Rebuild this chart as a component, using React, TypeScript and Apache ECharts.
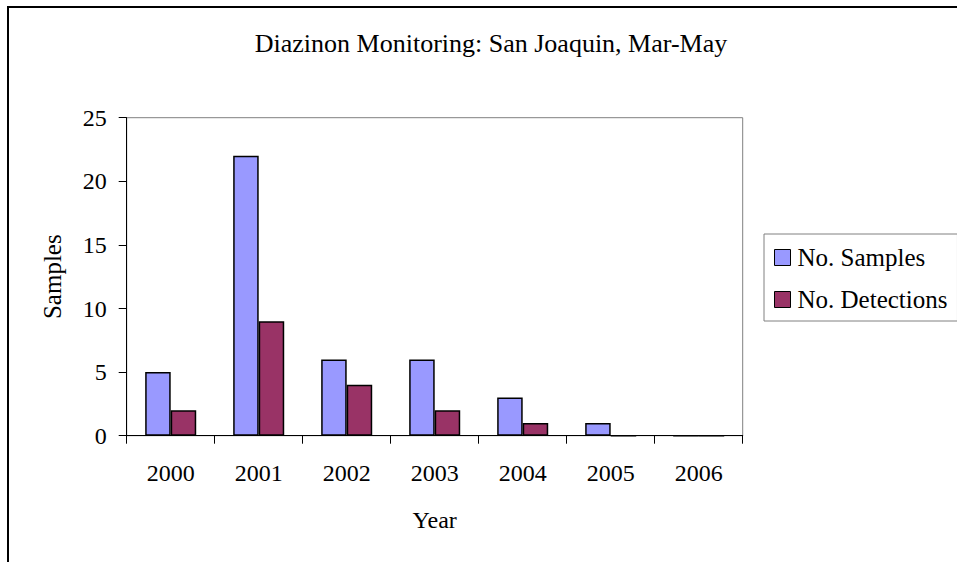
import React, { useEffect, useRef } from "react";
import * as echarts from "echarts";

const categories = ["2000", "2001", "2002", "2003", "2004", "2005", "2006"];
const samples = [5, 22, 6, 6, 3, 1, 0];
const detections = [2, 9, 4, 2, 1, 0, 0];

const FONT = "Liberation Serif, Times New Roman, serif";

export default function App() {
  const ref = useRef<HTMLDivElement>(null);
  useEffect(() => {
    document.body.style.margin = "0";
    const chart = echarts.init(ref.current!, null, { renderer: "svg" });
    chart.setOption({
      animation: false,
      backgroundColor: "#ffffff",
      textStyle: { fontFamily: FONT, color: "#000" },
      title: {
        text: "Diazinon Monitoring: San Joaquin, Mar-May",
        left: 491,
        top: 30,
        padding: 0,
        textAlign: "center",
        textStyle: { fontFamily: FONT, fontSize: 26, fontWeight: "normal", color: "#000" },
      },
      graphic: [
        {
          type: "rect",
          shape: { x: 8, y: 7, width: 1200, height: 800 },
          style: { fill: "none", stroke: "#000", lineWidth: 2 },
          silent: true,
          z: 100,
        },
      ],
      legend: {
        orient: "vertical",
        left: 764,
        top: 234,
        padding: [11, 10, 9, 10],
        itemWidth: 16,
        itemHeight: 16,
        itemGap: 17,
        icon: "rect",
        borderColor: "#808080",
        borderWidth: 1,
        backgroundColor: "#fff",
        textStyle: { fontFamily: FONT, fontSize: 25, color: "#000", padding: [0, 0, 0, 2] },
        itemStyle: { borderColor: "#000", borderWidth: 1 },
        data: ["No. Samples", "No. Detections"],
      },
      grid: {
        left: 126.7,
        top: 117.7,
        right: 214.3,
        bottom: 126.3,
        show: true,
        borderColor: "#808080",
        borderWidth: 1,
        backgroundColor: "#fff",
      },
      xAxis: {
        type: "category",
        data: categories,
        name: "Year",
        nameLocation: "middle",
        nameGap: 72,
        nameTextStyle: { fontFamily: FONT, fontSize: 24, color: "#000" },
        axisLine: { show: true, lineStyle: { color: "#000", width: 1 } },
        axisTick: { show: true, length: 8, lineStyle: { color: "#000" } },
        axisLabel: { fontFamily: FONT, fontSize: 24, color: "#000", margin: 25 },
        splitLine: { show: false },
      },
      yAxis: {
        type: "value",
        min: 0,
        max: 25,
        interval: 5,
        name: "Samples",
        nameLocation: "middle",
        nameGap: 62,
        nameTextStyle: { fontFamily: FONT, fontSize: 25, color: "#000" },
        axisLine: { show: true, lineStyle: { color: "#000", width: 1 } },
        axisTick: { show: true, length: 8, lineStyle: { color: "#000" } },
        axisLabel: { fontFamily: FONT, fontSize: 24, color: "#000", margin: 20 },
        splitLine: { show: false },
      },
      series: [
        {
          name: "No. Samples",
          type: "bar",
          data: samples,
          barGap: "0%",
          barCategoryGap: "42%",
          itemStyle: { color: "#9999FF", borderColor: "#000", borderWidth: 1.5 },
        },
        {
          name: "No. Detections",
          type: "bar",
          data: detections,
          barGap: "0%",
          barCategoryGap: "42%",
          itemStyle: { color: "#993366", borderColor: "#000", borderWidth: 1.5 },
        },
      ],
    });
    return () => chart.dispose();
  }, []);
  return <div ref={ref} style={{ width: 957, height: 562, overflow: "hidden" }} />;
}
